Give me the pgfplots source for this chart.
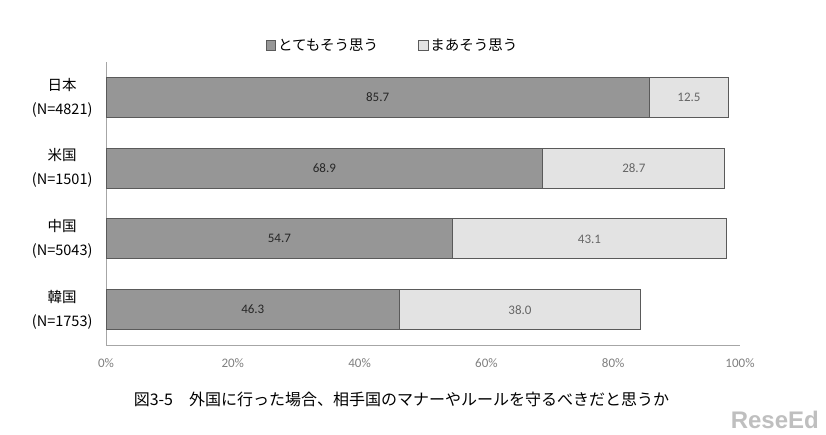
\documentclass[border=0pt]{standalone}
\usepackage{fontspec}
\setmainfont{Carlito}
\newfontfamily\jp{Noto Sans CJK JP}
\newfontfamily\logo{Liberation Sans}
\usepackage{pgfplots}
\usepackage{pgfplotstable}
\pgfplotsset{compat=1.18}
\definecolor{darkbar}{HTML}{969696}
\definecolor{lightbar}{HTML}{E3E3E3}
\definecolor{edge}{HTML}{5A5A5A}
\definecolor{axgray}{HTML}{A6A6A6}
\definecolor{ticktxt}{HTML}{7F7F7F}
\newcommand{\legfont}{\jp\fontsize{14.5}{16}\selectfont}
\pgfplotstableread{
y a b
3 85.7 12.5
2 68.9 28.7
1 54.7 43.1
0 46.3 38.0
}\data
\pgfplotstableread{
y xc lab
3 42.85 85.7
2 34.45 68.9
1 27.35 54.7
0 23.15 46.3
}\labA
\pgfplotstableread{
y xc lab
3 91.95 12.5
2 83.25 28.7
1 76.25 43.1
0 65.30 38.0
}\labB
\begin{document}
\begin{tikzpicture}
\useasboundingbox (0,0) rectangle (826pt,434pt);
\begin{axis}[
  at={(106pt,89pt)}, anchor=south west,
  scale only axis, width=634pt, height=283pt,
  xbar stacked, bar width=40pt,
  xmin=0, xmax=100, ymin=-0.5, ymax=3.5,
  axis x line*=bottom, axis y line*=left,
  axis line style={axgray, line width=1pt},
  major tick length=0pt,
  xtick={0,20,40,60,80,100},
  xticklabel={\pgfmathprintnumber{\tick}\%},
  /pgf/number format/assume math mode=true,
  xticklabel style={font=\fontsize{13}{15}\selectfont, text=ticktxt, yshift=-10pt},
  ytick={0,1,2,3},
  yticklabels={韓国\\(N=1753), 中国\\(N=5043), 米国\\(N=1501), 日本\\(N=4821)},
  yticklabel style={align=center, font=\jp\fontsize{14.5}{24}\selectfont, xshift=-10pt},
  legend columns=2,
  legend style={draw=none, at={(0.452,1.057)}, anchor=center,
    font=\legfont, nodes={font=\legfont},
    /tikz/every even column/.append style={column sep=38pt}},
  legend image code/.code={\draw[#1, draw=edge] (0pt,-4.5pt) rectangle (9.5pt,5pt);},
  xlabel={図3-5　外国に行った場合、相手国のマナーやルールを守るべきだと思うか},
  xlabel style={at={(axis description cs:0.466,-0.194)}, anchor=center, font=\jp\fontsize{16}{18}\selectfont},
]
\addplot[fill=darkbar, draw=edge, line width=0.8pt] table[x=a, y=y] {\data};
\addplot[fill=lightbar, draw=edge, line width=0.8pt] table[x=b, y=y] {\data};
\legend{{\legfont とてもそう思う}, {\legfont まあそう思う}}
\end{axis}
\begin{axis}[
  at={(106pt,89pt)}, anchor=south west,
  scale only axis, width=634pt, height=283pt,
  xmin=0, xmax=100, ymin=-0.5, ymax=3.5, hide axis,
]
\addplot[only marks, mark=none, nodes near coords, point meta=explicit symbolic,
  every node near coord/.style={anchor=center, font=\fontsize{13}{15}\selectfont, text=black!85}]
  table[x=xc, y=y, meta=lab] {\labA};
\addplot[only marks, mark=none, nodes near coords, point meta=explicit symbolic,
  every node near coord/.style={anchor=center, font=\fontsize{13}{15}\selectfont, text=black!60}]
  table[x=xc, y=y, meta=lab] {\labB};
\end{axis}
\node[anchor=south east, font=\logo\bfseries\fontsize{24}{24}\selectfont, text=black!25, inner sep=0pt] at (819pt,5pt) {ReseEd};
\end{tikzpicture}
\end{document}
